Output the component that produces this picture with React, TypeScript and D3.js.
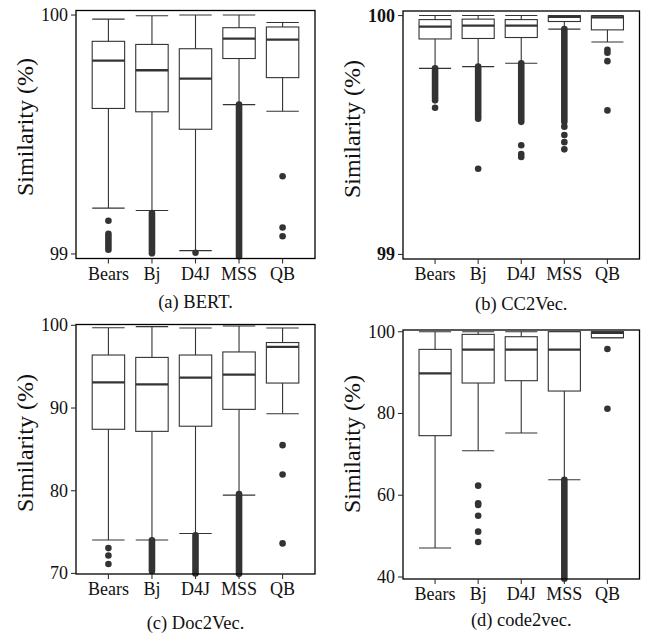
import React from "react";
import * as d3 from "d3";

const categories = ["Bears", "Bj", "D4J", "MSS", "QB"];

// (a) BERT
const bertLow = [99.192, 99.182, 99.014, 99.625, 99.597];
const bertQ1 = [99.609, 99.595, 99.522, 99.818, 99.738];
const bertMedian = [99.809, 99.769, 99.734, 99.901, 99.897];
const bertQ3 = [99.89, 99.877, 99.859, 99.947, 99.95];
const bertHigh = [99.983, 99.997, 100, 100, 99.969];
const bertOutliers: [string, number][] = [
  ["Bears", 99.139], ["D4J", 99.005], ["QB", 99.325], ["QB", 99.111], ["QB", 99.074],
];
const bertOutlierRuns: [string, number, number][] = [
  ["Bears", 99.018, 99.084], ["Bj", 99.003, 99.171], ["MSS", 98.99, 99.625],
];
const bertTicks = [99, 100];
const bertDomain = [98.981, 100.019];

// (b) CC2Vec
const ccLow = [99.779, 99.786, 99.8, 99.943, 99.889];
const ccQ1 = [99.902, 99.904, 99.908, 99.975, 99.94];
const ccMedian = [99.954, 99.958, 99.958, 99.995, 99.992];
const ccQ3 = [99.983, 99.985, 99.983, 99.999, 99.998];
const ccHigh = [100, 100, 100, 100, 100];
const ccOutliers: [string, number][] = [
  ["Bears", 99.645], ["Bears", 99.614], ["Bj", 99.359],
  ["D4J", 99.457], ["D4J", 99.42], ["D4J", 99.408],
  ["MSS", 99.535], ["MSS", 99.5], ["MSS", 99.47], ["MSS", 99.44],
  ["QB", 99.857], ["QB", 99.844], ["QB", 99.809], ["QB", 99.603],
];
const ccOutlierRuns: [string, number, number][] = [
  ["Bears", 99.655, 99.779], ["Bj", 99.568, 99.786], ["D4J", 99.555, 99.8], ["MSS", 99.555, 99.943],
];
const ccTicks = [99, 100];
const ccDomain = [98.981, 100.019];

// (c) Doc2Vec
const docLow = [74.04, 74.04, 74.82, 79.47, 89.31];
const docQ1 = [87.43, 87.18, 87.8, 89.84, 93.02];
const docMedian = [93.1, 92.86, 93.67, 94.04, 97.39];
const docQ3 = [96.41, 96.12, 96.41, 96.78, 97.92];
const docHigh = [99.71, 99.84, 99.67, 99.92, 99.67];
const docOutliers: [string, number][] = [
  ["Bears", 73.06], ["Bears", 72.16], ["Bears", 71.14],
  ["QB", 85.51], ["QB", 81.96], ["QB", 73.63],
];
const docOutlierRuns: [string, number, number][] = [
  ["Bj", 70.3, 74.0], ["D4J", 70.0, 74.6], ["MSS", 69.95, 79.6],
];
const docTicks = [70, 80, 90, 100];
const docDomain = [69.93, 100.1];

// (d) code2vec
const c2vLow = [47.09, 70.9, 75.22, 63.8, 98.53];
const c2vQ1 = [74.57, 87.45, 88.02, 85.49, 98.53];
const c2vMedian = [89.81, 95.6, 95.6, 95.6, 99.7];
const c2vQ3 = [95.68, 99.35, 98.78, 100, 100];
const c2vHigh = [100, 100, 100, 100, 100];
const c2vOutliers: [string, number][] = [
  ["Bj", 62.34], ["Bj", 58.02], ["Bj", 57.6], ["Bj", 55.0], ["Bj", 51.09], ["Bj", 48.56],
  ["QB", 95.76], ["QB", 81.17],
];
const c2vOutlierRuns: [string, number, number][] = [["MSS", 39.6, 63.8]];
const c2vTicks = [40, 60, 80, 100];
const c2vDomain = [39.51, 100.42];

const FONT = "'Liberation Serif', 'Times New Roman', Times, serif";
const INK = "#333333";

type PanelProps = {
  left: number; right: number; top: number; bottom: number;
  domain: number[]; ticks: number[];
  low: number[]; q1: number[]; med: number[]; q3: number[]; high: number[];
  outliers: [string, number][]; runs: [string, number, number][];
  caption: string; captionY: number; titleY: number; boldTicks?: boolean;
};

function Panel(p: PanelProps) {
  const x = d3.scaleBand<string>().domain(categories).range([p.left, p.right])
    .paddingInner(0.255).paddingOuter(0.372);
  const y = d3.scaleLinear().domain(p.domain).range([p.bottom, p.top]);
  const bw = x.bandwidth();
  const cx = (c: string) => (x(c) as number) + bw / 2;
  const r = 3.3;
  return (
    <g>
      {categories.map((c, i) => (
        <g key={c}>
          <line x1={cx(c)} x2={cx(c)} y1={y(p.low[i])} y2={y(p.high[i])} stroke={INK} strokeWidth={1.1} />
          <line x1={cx(c) - bw / 2} x2={cx(c) + bw / 2} y1={y(p.low[i])} y2={y(p.low[i])} stroke={INK} strokeWidth={1.1} />
          <line x1={cx(c) - bw / 2} x2={cx(c) + bw / 2} y1={y(p.high[i])} y2={y(p.high[i])} stroke={INK} strokeWidth={1.1} />
          <rect x={cx(c) - bw / 2} width={bw} y={y(p.q3[i])} height={Math.max(0.5, y(p.q1[i]) - y(p.q3[i]))}
            fill="#fff" stroke={INK} strokeWidth={1.1} />
          <line x1={cx(c) - bw / 2} x2={cx(c) + bw / 2} y1={y(p.med[i])} y2={y(p.med[i])} stroke={INK} strokeWidth={2.3} />
        </g>
      ))}
      {p.runs.map(([c, a, b], i) => (
        <line key={"r" + i} x1={cx(c)} x2={cx(c)} y1={y(a)} y2={y(b)} stroke={INK} strokeWidth={2 * r} strokeLinecap="round" />
      ))}
      {p.outliers.map(([c, v], i) => (
        <circle key={"o" + i} cx={cx(c)} cy={y(v)} r={r} fill={INK} />
      ))}
      <rect x={p.left} y={p.top} width={p.right - p.left} height={p.bottom - p.top} fill="none" stroke="#000" strokeWidth={1.3} />
      {p.ticks.map((t) => (
        <g key={t}>
          <line x1={p.left - 5} x2={p.left} y1={y(t)} y2={y(t)} stroke={INK} strokeWidth={1.1} />
          <text x={p.left - 8} y={y(t)} textAnchor="end" dominantBaseline="central" fontSize={18}
            fontWeight={p.boldTicks ? "bold" : "normal"} fill="#111">{t}</text>
        </g>
      ))}
      {categories.map((c) => (
        <g key={"x" + c}>
          <line x1={cx(c)} x2={cx(c)} y1={p.bottom} y2={p.bottom + 5} stroke={INK} strokeWidth={1.1} />
          <text x={cx(c)} y={p.bottom + 21} textAnchor="middle" fontSize={18} fill="#111">{c}</text>
        </g>
      ))}
      <text transform={`translate(${p.left - 51},${p.titleY}) rotate(-90)`} textAnchor="middle"
        dominantBaseline="central" fontSize={24} fill="#111">Similarity (%)</text>
      <text x={(p.left + p.right) / 2} y={p.captionY} textAnchor="middle" fontSize={18.5} fill="#111">{p.caption}</text>
    </g>
  );
}

export default function App() {
  return (
    <svg width={645} height={636} style={{ position: "absolute", left: 0, top: 0, fontFamily: FONT, background: "#fff" }}>
      <rect width={645} height={636} fill="#fff" />
      <Panel left={76} right={315} top={10.5} bottom={258.5} domain={bertDomain} ticks={bertTicks}
        low={bertLow} q1={bertQ1} med={bertMedian} q3={bertQ3} high={bertHigh}
        outliers={bertOutliers} runs={bertOutlierRuns} caption="(a) BERT." captionY={308} titleY={127} />
      <Panel left={403} right={639.5} top={11} bottom={259} domain={ccDomain} ticks={ccTicks} boldTicks
        low={ccLow} q1={ccQ1} med={ccMedian} q3={ccQ3} high={ccHigh}
        outliers={ccOutliers} runs={ccOutlierRuns} caption="(b) CC2Vec." captionY={310} titleY={129} />
      <Panel left={76} right={315} top={324.5} bottom={574} domain={docDomain} ticks={docTicks}
        low={docLow} q1={docQ1} med={docMedian} q3={docQ3} high={docHigh}
        outliers={docOutliers} runs={docOutlierRuns} caption="(c) Doc2Vec." captionY={629} titleY={443} />
      <Panel left={403} right={639.5} top={330} bottom={579} domain={c2vDomain} ticks={c2vTicks}
        low={c2vLow} q1={c2vQ1} med={c2vMedian} q3={c2vQ3} high={c2vHigh}
        outliers={c2vOutliers} runs={c2vOutlierRuns} caption="(d) code2vec." captionY={626} titleY={444} />
    </svg>
  );
}
